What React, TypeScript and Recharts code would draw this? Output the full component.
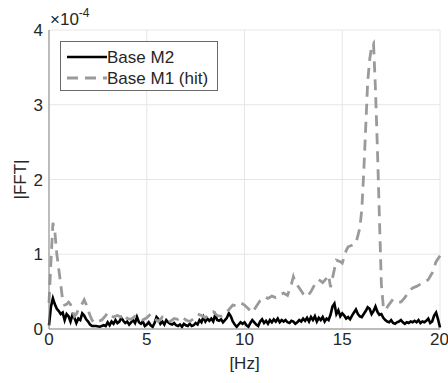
import { CartesianGrid, Line, LineChart, XAxis, YAxis } from "recharts";

// tick values, y shown in units of 1e-4
const xTicks = [0, 5, 10, 15, 20];
const yTicks = [0, 1, 2, 3, 4];
const seriesNames = ["Base M2", "Base M1 (hit)"];

// Base M2 (solid black)
const m2Freq = [
  0, 0.1, 0.2, 0.3, 0.4, 0.5, 0.6, 0.7, 0.8, 0.9, 1.0, 1.1, 1.2, 1.3, 1.4, 1.5, 1.6, 1.7, 1.8, 1.9,
  2.0, 2.1, 2.2, 2.4, 2.6, 2.8, 2.9, 3.0, 3.1, 3.2, 3.3, 3.4, 3.5, 3.6, 3.7, 3.8, 3.9, 4.0, 4.1, 4.2,
  4.3, 4.4, 4.5, 4.6, 4.7, 4.8, 4.9, 5.0, 5.1, 5.2, 5.3, 5.4, 5.5, 5.6, 5.7, 5.8, 5.9, 6.0, 6.1, 6.2,
  6.3, 6.4, 6.5, 6.6, 6.7, 6.8, 6.9, 7.0, 7.1, 7.2, 7.3, 7.4, 7.5, 7.6, 7.7, 7.8, 7.9, 8.0, 8.1, 8.2,
  8.3, 8.4, 8.5, 8.6, 8.7, 8.8, 8.9, 9.0, 9.1, 9.2, 9.3, 9.4, 9.5, 9.6, 9.7, 9.8, 9.9, 10.0, 10.1,
  10.2, 10.3, 10.4, 10.5, 10.6, 10.7, 10.8, 10.9, 11.0, 11.1, 11.2, 11.3, 11.4, 11.5, 11.6, 11.7,
  11.8, 11.9, 12.0, 12.1, 12.2, 12.3, 12.4, 12.5, 12.6, 12.7, 12.8, 12.9, 13.0, 13.1, 13.2, 13.3,
  13.4, 13.5, 13.6, 13.7, 13.8, 13.9, 14.0, 14.1, 14.2, 14.3, 14.4, 14.5, 14.6, 14.7, 14.8, 14.9,
  15.0, 15.1, 15.2, 15.3, 15.4, 15.5, 15.6, 15.7, 15.8, 15.9, 16.0, 16.1, 16.2, 16.3, 16.4, 16.5,
  16.6, 16.7, 16.8, 16.9, 17.0, 17.1, 17.2, 17.3, 17.4, 17.5, 17.6, 17.7, 17.8, 17.9, 18.0, 18.1,
  18.2, 18.3, 18.4, 18.5, 18.6, 18.7, 18.8, 18.9, 19.0, 19.1, 19.2, 19.3, 19.4, 19.5, 19.6, 19.7,
  19.8, 19.9, 20.0,
];
const m2Amp = [
  0.05, 0.3, 0.41, 0.33, 0.27, 0.24, 0.2, 0.22, 0.12, 0.2, 0.17, 0.1, 0.19, 0.15, 0.08, 0.14, 0.12, 0.21, 0.18, 0.13,
  0.1, 0.06, 0.04, 0.04, 0.03, 0.05, 0.04, 0.09, 0.05, 0.1, 0.07, 0.12, 0.08, 0.1, 0.15, 0.11, 0.08, 0.1, 0.06, 0.09,
  0.12, 0.08, 0.16, 0.09, 0.07, 0.1, 0.04, 0.06, 0.09, 0.05, 0.03, 0.08, 0.16, 0.13, 0.07, 0.1, 0.06, 0.12, 0.09, 0.07,
  0.06, 0.08, 0.05, 0.04, 0.06, 0.03, 0.07, 0.05, 0.04, 0.07, 0.04, 0.05, 0.08, 0.06, 0.12, 0.09, 0.16, 0.1, 0.14, 0.11,
  0.14, 0.1, 0.19, 0.12, 0.11, 0.13, 0.09, 0.12, 0.15, 0.21, 0.17, 0.1, 0.06, 0.03, 0.06, 0.09, 0.07, 0.09, 0.05,
  0.03, 0.08, 0.12, 0.09, 0.06, 0.04, 0.1, 0.13, 0.08, 0.11, 0.07, 0.12, 0.09, 0.13, 0.1, 0.14,
  0.09, 0.12, 0.1, 0.12, 0.09, 0.08, 0.11, 0.1, 0.07, 0.09, 0.12, 0.1, 0.14, 0.11, 0.15, 0.1,
  0.16, 0.12, 0.17, 0.1, 0.15, 0.12, 0.16, 0.1, 0.14, 0.12, 0.19, 0.3, 0.34, 0.2, 0.25, 0.17,
  0.21, 0.18, 0.14, 0.16, 0.13, 0.18, 0.22, 0.26, 0.2, 0.17, 0.16, 0.2, 0.24, 0.29, 0.27, 0.2,
  0.24, 0.3, 0.23, 0.19, 0.2, 0.15, 0.12, 0.1, 0.09, 0.12, 0.08, 0.07, 0.09, 0.1, 0.12, 0.09,
  0.07, 0.09, 0.08, 0.1, 0.09, 0.11, 0.09, 0.12, 0.08, 0.1, 0.09, 0.11, 0.14, 0.08, 0.1, 0.18,
  0.22, 0.13, 0.02,
];

// Base M1 (hit), dashed grey
const m1Freq = [
  0, 0.1, 0.2, 0.3, 0.4, 0.5, 0.6, 0.7, 0.8, 0.9, 1.0, 1.1, 1.2, 1.3, 1.4, 1.5, 1.6, 1.7, 1.8, 1.9,
  2.0, 2.1, 2.2, 2.3, 2.5, 2.7, 2.9, 3.0, 3.1, 3.3, 3.5, 3.7, 3.8, 4.0, 4.2, 4.4, 4.6, 4.8, 5.0, 5.2,
  5.4, 5.6, 5.8, 6.0, 6.2, 6.4, 6.6, 6.8, 7.0, 7.2, 7.4, 7.6, 7.8, 8.0, 8.2, 8.4, 8.6, 8.8, 9.0, 9.2,
  9.4, 9.6, 9.8, 10.0, 10.2, 10.4, 10.6, 10.8, 11.0, 11.2, 11.4, 11.6, 11.8, 12.0, 12.2, 12.4, 12.5,
  12.6, 12.8, 13.0, 13.2, 13.4, 13.6, 13.8, 14.0, 14.2, 14.3, 14.4, 14.6, 14.7, 14.9, 15.0, 15.2,
  15.3, 15.5, 15.7, 15.9, 16.0, 16.1, 16.2, 16.3, 16.4, 16.5, 16.6, 16.7, 16.8, 16.9, 17.0, 17.1,
  17.2, 17.4, 17.6, 17.8, 18.0, 18.2, 18.4, 18.6, 18.8, 19.0, 19.2, 19.4, 19.6, 19.8, 20.0,
];
const m1Amp = [
  0.35, 0.9, 1.42, 1.3, 1.0, 0.8, 0.6, 0.38, 0.32, 0.33, 0.36, 0.33, 0.25, 0.17, 0.2, 0.26, 0.3, 0.34, 0.39, 0.33,
  0.25, 0.18, 0.12, 0.08, 0.1, 0.12, 0.18, 0.22, 0.19, 0.16, 0.18, 0.16, 0.2, 0.14, 0.13, 0.17, 0.14, 0.12, 0.15, 0.2,
  0.14, 0.1, 0.16, 0.15, 0.1, 0.14, 0.13, 0.17, 0.12, 0.1, 0.14, 0.2, 0.18, 0.15, 0.2, 0.23, 0.18, 0.17, 0.2, 0.26,
  0.32, 0.31, 0.35, 0.32, 0.27, 0.22, 0.3, 0.38, 0.43, 0.41, 0.44, 0.42, 0.46, 0.48, 0.45, 0.6, 0.7,
  0.62, 0.55, 0.47, 0.43, 0.5, 0.6, 0.66, 0.62, 0.68, 0.72, 0.56, 0.8, 0.92, 0.9, 0.88, 1.05,
  1.1, 1.12, 1.15, 1.35, 1.6, 2.1, 2.7, 3.3, 3.6, 3.78, 3.82, 3.2, 2.4, 1.5, 0.6, 0.3,
  0.25, 0.33, 0.4, 0.37, 0.36, 0.42, 0.5, 0.55, 0.57, 0.6, 0.62, 0.66, 0.75, 0.9, 0.98,
];

const m2Data = m2Freq.map((f, i) => ({ f, v: m2Amp[i] }));
const m1Data = m1Freq.map((f, i) => ({ f, v: m1Amp[i] }));

const FONT = "'Liberation Sans', Arial, Helvetica, sans-serif";
const TEXT = "#262626";
const AXIS = "#858585";
const GREY = "#9a9a9a";

const emptyTick = () => <g />;

function YLabel(props: any) {
  const vb = props.viewBox || { x: 0, y: 30, width: 49, height: 299 };
  const cy = vb.y + vb.height / 2;
  return (
    <g fontFamily={FONT} fill={TEXT}>
      <text
        x={20}
        y={cy}
        fontSize={17}
        textAnchor="middle"
        dominantBaseline="central"
        transform={`rotate(-90 20 ${cy})`}
      >
        |FFT|
      </text>
      <text x={vb.x + vb.width + 1} y={vb.y - 5} fontSize={17}>
        ×10
        <tspan dy={-8} fontSize={12}>
          -4
        </tspan>
      </text>
    </g>
  );
}

export default function App() {
  return (
    <div style={{ position: "absolute", left: 0, top: 0, width: 448, height: 383, background: "#fff" }}>
      <LineChart width={448} height={383} margin={{ top: 30, right: 8, left: 0, bottom: 0 }}>
        <CartesianGrid stroke="#e6e6e6" strokeWidth={1} />
        <XAxis
          dataKey="f"
          type="number"
          domain={[0, 20]}
          ticks={xTicks}
          height={54}
          stroke={AXIS}
          tickLine={false}
          tickSize={0}
          tickMargin={4}
          tick={{ fill: TEXT, fontSize: 17, fontFamily: FONT }}
          label={{ value: "[Hz]", position: "bottom", offset: -26, fill: TEXT, fontSize: 17, fontFamily: FONT }}
        />
        <XAxis
          xAxisId="bin"
          dataKey="f"
          type="number"
          domain={[0, 20]}
          ticks={xTicks}
          mirror
          height={0}
          axisLine={false}
          stroke={AXIS}
          tickSize={4}
          tick={emptyTick}
        />
        <XAxis
          xAxisId="top"
          orientation="top"
          dataKey="f"
          type="number"
          domain={[0, 20]}
          ticks={xTicks}
          mirror
          height={0}
          stroke={AXIS}
          tickSize={4}
          tick={emptyTick}
        />
        <YAxis
          type="number"
          domain={[0, 4]}
          ticks={yTicks}
          width={49}
          stroke={AXIS}
          tickLine={false}
          tickSize={0}
          tickMargin={6}
          tick={{ fill: TEXT, fontSize: 17, fontFamily: FONT }}
          label={<YLabel />}
        />
        <YAxis
          yAxisId="lin"
          type="number"
          domain={[0, 4]}
          ticks={yTicks}
          mirror
          width={0}
          axisLine={false}
          stroke={AXIS}
          tickSize={4}
          tick={emptyTick}
        />
        <YAxis
          yAxisId="right"
          orientation="right"
          type="number"
          domain={[0, 4]}
          ticks={yTicks}
          mirror
          width={0}
          stroke={AXIS}
          tickSize={4}
          tick={emptyTick}
        />
        <Line
          data={m2Data}
          dataKey="v"
          name={seriesNames[0]}
          type="linear"
          stroke="#000"
          strokeWidth={2.6}
          dot={false}
          activeDot={false}
          isAnimationActive={false}
        />
        <Line
          data={m1Data}
          dataKey="v"
          name={seriesNames[1]}
          type="linear"
          stroke={GREY}
          strokeWidth={2.8}
          strokeDasharray="11 7"
          dot={false}
          activeDot={false}
          isAnimationActive={false}
        />
      </LineChart>
      <div
        style={{
          position: "absolute",
          left: 60,
          top: 41,
          width: 156,
          height: 48,
          border: "1px solid #6a6a6a",
          background: "#fff",
        }}
      >
        <svg width={156} height={48} style={{ display: "block" }}>
          <line x1={6} x2={46} y1={15} y2={15} stroke="#000" strokeWidth={2.6} />
          <text x={46} y={15} dominantBaseline="central" fontSize={17} fontFamily={FONT} fill={TEXT}>
            {seriesNames[0]}
          </text>
          <line x1={6} x2={46} y1={36} y2={36} stroke={GREY} strokeWidth={2.8} strokeDasharray="11 7" />
          <text x={46} y={36} dominantBaseline="central" fontSize={17} fontFamily={FONT} fill={TEXT}>
            {seriesNames[1]}
          </text>
        </svg>
      </div>
    </div>
  );
}
